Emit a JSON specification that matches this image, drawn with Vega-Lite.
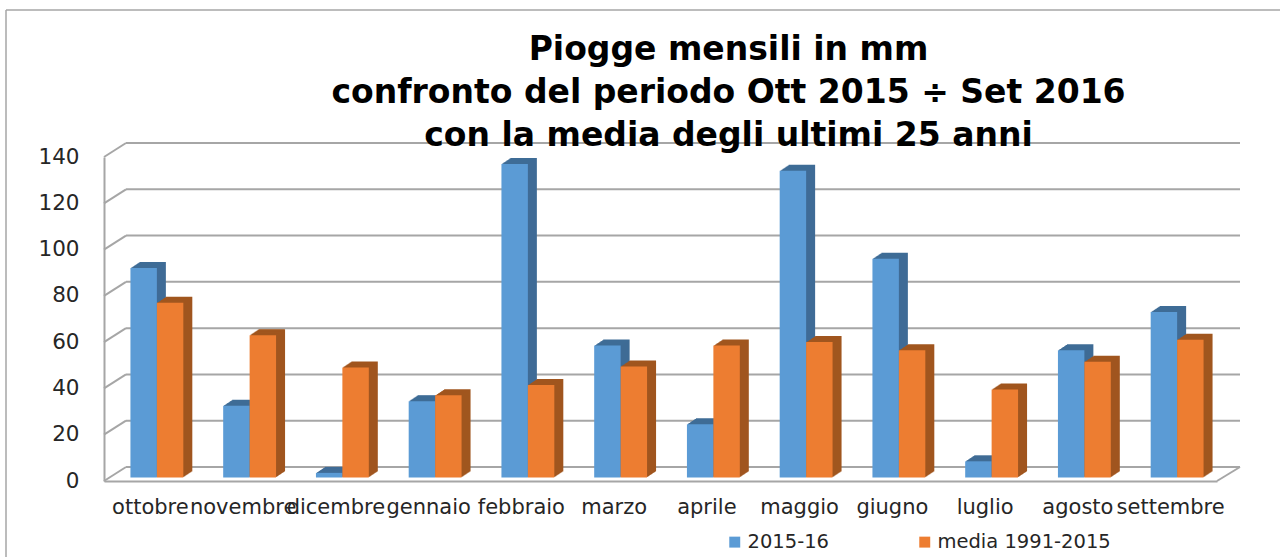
{
"$schema":"https://vega.github.io/schema/vega-lite/v6.json",
"width":1113,"height":324,
"autosize":{"type":"none"},
"padding":{"left":104,"top":157,"right":63,"bottom":76},
"background":"white",
"title":{"text":["Piogge mensili in mm","confronto del periodo Ott 2015 ÷ Set 2016","con la media degli ultimi 25 anni"],"font":"DejaVu Sans","fontWeight":"bold","fontSize":33,"lineHeight":43,"color":"#000000","anchor":"middle","dx":68,"offset":-144},
"config":{"view":{"stroke":null}},
"datasets":{
"rain":[
{"mese":"ottobre","serie":"2015-16","mm":90.5},{"mese":"ottobre","serie":"media 1991-2015","mm":75.5},
{"mese":"novembre","serie":"2015-16","mm":31},{"mese":"novembre","serie":"media 1991-2015","mm":61.5},
{"mese":"dicembre","serie":"2015-16","mm":2},{"mese":"dicembre","serie":"media 1991-2015","mm":47.5},
{"mese":"gennaio","serie":"2015-16","mm":33},{"mese":"gennaio","serie":"media 1991-2015","mm":35.5},
{"mese":"febbraio","serie":"2015-16","mm":135.5},{"mese":"febbraio","serie":"media 1991-2015","mm":40},
{"mese":"marzo","serie":"2015-16","mm":57},{"mese":"marzo","serie":"media 1991-2015","mm":48},
{"mese":"aprile","serie":"2015-16","mm":23},{"mese":"aprile","serie":"media 1991-2015","mm":57},
{"mese":"maggio","serie":"2015-16","mm":132.5},{"mese":"maggio","serie":"media 1991-2015","mm":58.5},
{"mese":"giugno","serie":"2015-16","mm":94.5},{"mese":"giugno","serie":"media 1991-2015","mm":55},
{"mese":"luglio","serie":"2015-16","mm":7},{"mese":"luglio","serie":"media 1991-2015","mm":38},
{"mese":"agosto","serie":"2015-16","mm":55},{"mese":"agosto","serie":"media 1991-2015","mm":50},
{"mese":"settembre","serie":"2015-16","mm":71.5},{"mese":"settembre","serie":"media 1991-2015","mm":59.5}
],
"ticks":[{"t":0},{"t":20},{"t":40},{"t":60},{"t":80},{"t":100},{"t":120},{"t":140}]
},
"data":{"name":"rain"},
"encoding":{
"y":{"type":"quantitative","scale":{"domain":[0,140],"nice":false,"zero":true},"axis":{"title":null,"values":[0,20,40,60,80,100,120,140],"labelFont":"DejaVu Sans","labelFontSize":21.5,"labelColor":"#262626","labelPadding":25,"ticks":false,"domain":true,"domainColor":"#a6a6a6","domainWidth":2,"grid":false}}
},
"resolve":{"scale":{"x":"independent","xOffset":"independent"},"axis":{"x":"independent"}},
"layer":[
{"data":{"values":[{"f":1}]},"mark":{"type":"rule","color":"#a6a6a6","strokeWidth":1.5},
 "encoding":{"x":{"datum":-98,"type":"quantitative","scale":{"domain":[0,1113],"range":[0,1113],"nice":false,"zero":false},"axis":null},"y":{"datum":-33,"type":"quantitative"},"y2":{"datum":203.5}}},
{"data":{"values":[{"f":1}]},"mark":{"type":"rule","color":"#a6a6a6","strokeWidth":1.5},
 "encoding":{"x":{"datum":-98,"type":"quantitative","scale":{"domain":[0,1113],"range":[0,1113],"nice":false,"zero":false},"axis":null},"x2":{"datum":1176},"y":{"datum":203.5,"type":"quantitative"}}},
{"data":{"name":"ticks"},"mark":{"type":"rule","color":"#a6a6a6","strokeWidth":2,"yOffset":-14,"y2Offset":-14},
 "encoding":{"x":{"datum":22,"type":"quantitative","scale":{"domain":[0,1113],"range":[0,1113],"nice":false,"zero":false},"axis":null},"x2":{"datum":1136},"y":{"field":"t","type":"quantitative"},"y2":{"field":"t"}}},
{"data":{"name":"ticks"},"mark":{"type":"rule","color":"#a6a6a6","strokeWidth":2,"y2Offset":-14},
 "encoding":{"x":{"datum":0,"type":"quantitative","scale":{"domain":[0,1113],"range":[0,1113],"nice":false,"zero":false},"axis":null},"x2":{"datum":22},"y":{"field":"t","type":"quantitative"},"y2":{"field":"t"}}},
{"data":{"values":[{"t":0}]},"mark":{"type":"rule","color":"#a6a6a6","strokeWidth":2,"y2Offset":-14},
 "encoding":{"x":{"datum":1113,"type":"quantitative","scale":{"domain":[0,1113],"range":[0,1113],"nice":false,"zero":false},"axis":null},"x2":{"datum":1136},"y":{"field":"t","type":"quantitative"},"y2":{"field":"t"}}},
{"mark":{"type":"bar","yOffset":-9.5,"y2Offset":-9.5},
 "encoding":{"x":{"field":"mese","type":"nominal","scale":{"domain":["ottobre","novembre","dicembre","gennaio","febbraio","marzo","aprile","maggio","giugno","luglio","agosto","settembre"],"range":[15.5,1128.5],"paddingInner":0.43,"paddingOuter":0.215},"axis":null},"xOffset":{"field":"serie"},"y":{"field":"mm","type":"quantitative"},"fill":{"condition":{"test":"datum.serie==='2015-16'","value":"#3f6c96"},"value":"#a0561f"}}},
{"mark":{"type":"bar","yOffset":-8.8,"y2Offset":-8.8},
 "encoding":{"x":{"field":"mese","type":"nominal","scale":{"domain":["ottobre","novembre","dicembre","gennaio","febbraio","marzo","aprile","maggio","giugno","luglio","agosto","settembre"],"range":[14.5,1127.5],"paddingInner":0.43,"paddingOuter":0.215},"axis":null},"xOffset":{"field":"serie"},"y":{"field":"mm","type":"quantitative"},"fill":{"condition":{"test":"datum.serie==='2015-16'","value":"#3f6c96"},"value":"#a0561f"}}},
{"mark":{"type":"bar","yOffset":-8.2,"y2Offset":-8.2},
 "encoding":{"x":{"field":"mese","type":"nominal","scale":{"domain":["ottobre","novembre","dicembre","gennaio","febbraio","marzo","aprile","maggio","giugno","luglio","agosto","settembre"],"range":[13.5,1126.5],"paddingInner":0.43,"paddingOuter":0.215},"axis":null},"xOffset":{"field":"serie"},"y":{"field":"mm","type":"quantitative"},"fill":{"condition":{"test":"datum.serie==='2015-16'","value":"#3f6c96"},"value":"#a0561f"}}},
{"mark":{"type":"bar","yOffset":-7.5,"y2Offset":-7.5},
 "encoding":{"x":{"field":"mese","type":"nominal","scale":{"domain":["ottobre","novembre","dicembre","gennaio","febbraio","marzo","aprile","maggio","giugno","luglio","agosto","settembre"],"range":[12.5,1125.5],"paddingInner":0.43,"paddingOuter":0.215},"axis":null},"xOffset":{"field":"serie"},"y":{"field":"mm","type":"quantitative"},"fill":{"condition":{"test":"datum.serie==='2015-16'","value":"#3f6c96"},"value":"#a0561f"}}},
{"mark":{"type":"bar","yOffset":-6.8,"y2Offset":-6.8},
 "encoding":{"x":{"field":"mese","type":"nominal","scale":{"domain":["ottobre","novembre","dicembre","gennaio","febbraio","marzo","aprile","maggio","giugno","luglio","agosto","settembre"],"range":[11.5,1124.5],"paddingInner":0.43,"paddingOuter":0.215},"axis":null},"xOffset":{"field":"serie"},"y":{"field":"mm","type":"quantitative"},"fill":{"condition":{"test":"datum.serie==='2015-16'","value":"#3f6c96"},"value":"#a0561f"}}},
{"mark":{"type":"bar","yOffset":-6.2,"y2Offset":-6.2},
 "encoding":{"x":{"field":"mese","type":"nominal","scale":{"domain":["ottobre","novembre","dicembre","gennaio","febbraio","marzo","aprile","maggio","giugno","luglio","agosto","settembre"],"range":[10.5,1123.5],"paddingInner":0.43,"paddingOuter":0.215},"axis":null},"xOffset":{"field":"serie"},"y":{"field":"mm","type":"quantitative"},"fill":{"condition":{"test":"datum.serie==='2015-16'","value":"#3f6c96"},"value":"#a0561f"}}},
{"mark":{"type":"bar","yOffset":-5.5,"y2Offset":-5.5},
 "encoding":{"x":{"field":"mese","type":"nominal","scale":{"domain":["ottobre","novembre","dicembre","gennaio","febbraio","marzo","aprile","maggio","giugno","luglio","agosto","settembre"],"range":[9.5,1122.5],"paddingInner":0.43,"paddingOuter":0.215},"axis":null},"xOffset":{"field":"serie"},"y":{"field":"mm","type":"quantitative"},"fill":{"condition":{"test":"datum.serie==='2015-16'","value":"#3f6c96"},"value":"#a0561f"}}},
{"mark":{"type":"bar","yOffset":-4.8,"y2Offset":-4.8},
 "encoding":{"x":{"field":"mese","type":"nominal","scale":{"domain":["ottobre","novembre","dicembre","gennaio","febbraio","marzo","aprile","maggio","giugno","luglio","agosto","settembre"],"range":[8.5,1121.5],"paddingInner":0.43,"paddingOuter":0.215},"axis":null},"xOffset":{"field":"serie"},"y":{"field":"mm","type":"quantitative"},"fill":{"condition":{"test":"datum.serie==='2015-16'","value":"#3f6c96"},"value":"#a0561f"}}},
{"mark":{"type":"bar","yOffset":-4.2,"y2Offset":-4.2},
 "encoding":{"x":{"field":"mese","type":"nominal","scale":{"domain":["ottobre","novembre","dicembre","gennaio","febbraio","marzo","aprile","maggio","giugno","luglio","agosto","settembre"],"range":[7.5,1120.5],"paddingInner":0.43,"paddingOuter":0.215},"axis":null},"xOffset":{"field":"serie"},"y":{"field":"mm","type":"quantitative"},"fill":{"condition":{"test":"datum.serie==='2015-16'","value":"#3f6c96"},"value":"#a0561f"}}},
{"mark":{"type":"bar","yOffset":-3.5,"y2Offset":-3.5},
 "encoding":{"x":{"field":"mese","type":"nominal","scale":{"domain":["ottobre","novembre","dicembre","gennaio","febbraio","marzo","aprile","maggio","giugno","luglio","agosto","settembre"],"range":[6.5,1119.5],"paddingInner":0.43,"paddingOuter":0.215},"axis":null},"xOffset":{"field":"serie"},"y":{"field":"mm","type":"quantitative"},"color":{"field":"serie","type":"nominal","scale":{"domain":["2015-16","media 1991-2015"],"range":["#5b9bd5","#ed7d31"]},"legend":{"title":null,"orient":"none","legendX":621,"legendY":375,"direction":"horizontal","columns":2,"columnPadding":86,"symbolType":"square","symbolSize":120,"symbolStrokeWidth":0,"labelFont":"DejaVu Sans","labelFontSize":19.5,"labelLimit":300,"labelColor":"#262626","labelOffset":3}}}},
{"data":{"values":[{"mese":"ottobre"},{"mese":"novembre"},{"mese":"dicembre"},{"mese":"gennaio"},{"mese":"febbraio"},{"mese":"marzo"},{"mese":"aprile"},{"mese":"maggio"},{"mese":"giugno"},{"mese":"luglio"},{"mese":"agosto"},{"mese":"settembre"}]},"mark":{"type":"rule","opacity":0},
 "encoding":{"x":{"field":"mese","type":"nominal","scale":{"domain":["ottobre","novembre","dicembre","gennaio","febbraio","marzo","aprile","maggio","giugno","luglio","agosto","settembre"],"paddingInner":0.43,"paddingOuter":0.215},"axis":{"title":null,"labelAngle":0,"labelFont":"DejaVu Sans","labelFontSize":21,"labelColor":"#262626","labelPadding":15,"labelOverlap":false,"labelBound":false,"labelFlush":false,"ticks":false,"domain":true,"domainColor":"#a6a6a6","domainWidth":2,"grid":false}},"y":{"datum":0,"type":"quantitative"}}}
]
}
